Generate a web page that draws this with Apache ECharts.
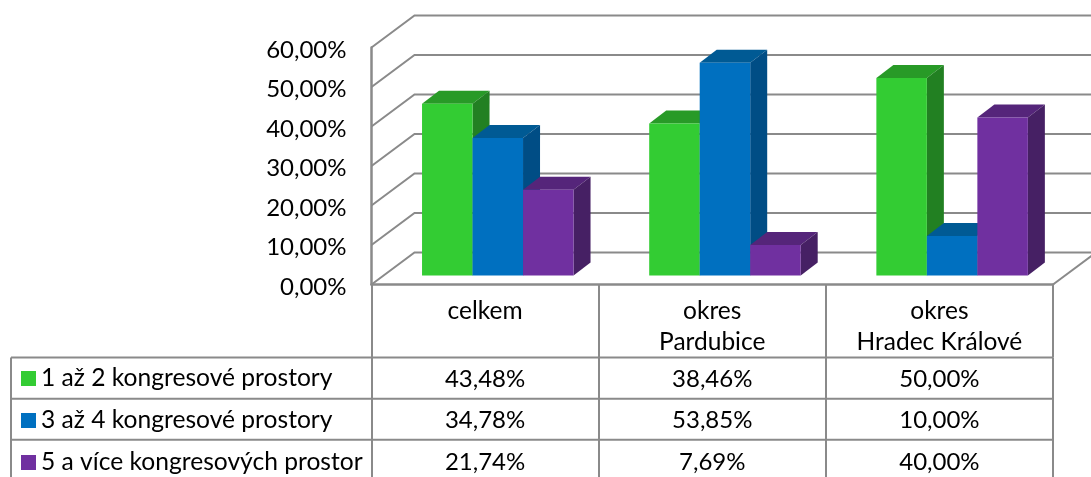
<!DOCTYPE html>
<html>
<head>
<meta charset="utf-8">
<style>html,body{margin:0;padding:0;background:#fff;overflow:hidden}#c{width:1091px;height:477px}</style>
<script src="https://cdn.jsdelivr.net/npm/echarts@6/dist/echarts.min.js"></script>
</head>
<body>
<div id="c"></div>
<script>
const categories = ['celkem', 'okres\nPardubice', 'okres\nHradec Králové'];
const seriesNames = ['1 až 2 kongresové prostory', '3 až 4 kongresové prostory', '5 a více kongresových prostor'];
const values1 = [43.48, 38.46, 50.00];
const values2 = [34.78, 53.85, 10.00];
const values3 = [21.74, 7.69, 40.00];
const yTicks = [0, 10, 20, 30, 40, 50, 60];
const allValues = [values1, values2, values3];
const palette = [
  {front: '#33CC33', top: '#289A27', side: '#228022'},
  {front: '#0070C0', top: '#005A94', side: '#004D85'},
  {front: '#7030A0', top: '#55257A', side: '#462064'}
];
const FONT = 'Lato';
const FS = 24;
const GREY = '#8a8a8a';
const pct = v => v.toFixed(2).replace('.', ',') + '%';
const wallDx = 43, wallDy = 32, barW = 50.5, barDx = 17, barDy = 13, barShiftX = 12.7, barShiftY = 9;

function wallSeries() {
  return {
    type: 'custom', silent: true, xAxisIndex: 0, yAxisIndex: 0, z: 1,
    data: yTicks.map(v => [0, v]),
    encode: {x: 0, y: 1},
    renderItem(params, api) {
      const cs = params.coordSys;
      const y = api.coord([0, api.value(1)])[1];
      const style = {stroke: GREY, lineWidth: 2, fill: null};
      const children = [{type: 'polyline', shape: {points: [[cs.x, y], [cs.x + wallDx, y - wallDy], [cs.x + cs.width + wallDx, y - wallDy]]}, style}];
      if (api.value(1) === 0) {
        children.push({type: 'line', shape: {x1: cs.x + cs.width, y1: y, x2: cs.x + cs.width + wallDx, y2: y - wallDy}, style});
      }
      return {type: 'group', children};
    }
  };
}

function barSeries(si) {
  const c = palette[si];
  return {
    name: seriesNames[si],
    type: 'custom', xAxisIndex: 0, yAxisIndex: 0, z: 3,
    itemStyle: {color: c.front},
    data: allValues[si].map((v, i) => [i, v]),
    encode: {x: 0, y: 1},
    renderItem(params, api) {
      const p = api.coord([api.value(0), api.value(1)]);
      const b = api.coord([api.value(0), 0]);
      const x = p[0] - 1.5 * barW + barShiftX + si * barW;
      const yt = p[1] - barShiftY, yb = b[1] - barShiftY;
      return {type: 'group', children: [
        {type: 'polygon', shape: {points: [[x, yt], [x + barW, yt], [x + barW + barDx, yt - barDy], [x + barDx, yt - barDy]]}, style: {fill: c.top}},
        {type: 'polygon', shape: {points: [[x + barW, yt], [x + barW + barDx, yt - barDy], [x + barW + barDx, yb - barDy], [x + barW, yb]]}, style: {fill: c.side}},
        {type: 'rect', shape: {x, y: yt, width: barW, height: yb - yt}, style: {fill: c.front}}
      ]};
    }
  };
}

function cellSeries(si) {
  return {
    type: 'custom', silent: true, xAxisIndex: 1, yAxisIndex: 1, z: 4,
    data: allValues[si].map((v, i) => [i, si, v]),
    encode: {x: 0, y: 1},
    renderItem(params, api) {
      const p = api.coord([api.value(0), api.value(1)]);
      return {type: 'text', x: p[0], y: p[1] + 1.5, style: {
        text: pct(api.value(2)), fill: '#000', font: FS + 'px ' + FONT, align: 'center', verticalAlign: 'middle'
      }};
    }
  };
}

const frameSeries = {
  type: 'custom', silent: true, xAxisIndex: 1, yAxisIndex: 1, z: 2,
  data: seriesNames.map((n, i) => [0, i]),
  encode: {x: 0, y: 1},
  renderItem(params, api) {
    const cs = params.coordSys;
    const y = api.coord([0, api.value(1)])[1] - api.size([0, 1])[1] / 2;
    const style = {stroke: GREY, lineWidth: 2, fill: null};
    const children = [{type: 'line', shape: {x1: 11, y1: y, x2: cs.x + cs.width, y2: y}, style}];
    if (api.value(1) === 0) {
      children.push({type: 'line', shape: {x1: 11, y1: y, x2: 11, y2: cs.y + cs.height}, style});
    }
    return {type: 'group', children};
  }
};

const axisLine = {lineStyle: {color: GREY, width: 2.5}};
const option = {
  animation: false,
  backgroundColor: '#fff',
  textStyle: {fontFamily: FONT},
  legend: {
    orient: 'vertical', left: 21, top: 366, padding: 0, itemGap: 17,
    itemWidth: 15, itemHeight: 15, selectedMode: false,
    icon: 'rect', data: seriesNames,
    textStyle: {fontFamily: FONT, fontSize: 24.6, color: '#000', lineHeight: 24.5}
  },
  grid: [
    {left: 371.5, top: 47.5, width: 681.5, height: 237, outerBoundsMode: 'none'},
    {left: 371.5, top: 357.5, width: 681.5, height: 123.5, outerBoundsMode: 'none'}
  ],
  xAxis: [
    {
      type: 'category', gridIndex: 0, data: categories,
      axisLine: {show: true, ...axisLine},
      axisTick: {show: true, interval: 0, length: 73, lineStyle: {color: GREY, width: 2}},
      axisLabel: {interval: 0, margin: 11, color: '#000', fontFamily: FONT, fontSize: 24.5, lineHeight: 31},
      splitLine: {show: false}
    },
    {
      type: 'category', gridIndex: 1, data: categories,
      axisLine: {show: false}, axisTick: {show: false}, axisLabel: {show: false},
      splitLine: {show: true, interval: 0, lineStyle: {color: GREY, width: 2}}
    }
  ],
  yAxis: [
    {
      type: 'value', gridIndex: 0, min: 0, max: 60, interval: 10,
      axisLine: {show: true, ...axisLine}, axisTick: {show: false},
      axisLabel: {margin: 25, color: '#000', fontFamily: FONT, fontSize: FS, verticalAlign: 'top', lineHeight: 5, formatter: v => pct(v)},
      splitLine: {show: false}
    },
    {
      type: 'category', gridIndex: 1, inverse: true, data: seriesNames,
      axisLine: {show: false}, axisTick: {show: false}, axisLabel: {show: false}, splitLine: {show: false}
    }
  ],
  series: [wallSeries(), barSeries(0), barSeries(1), barSeries(2), frameSeries, cellSeries(0), cellSeries(1), cellSeries(2)]
};
echarts.init(document.getElementById('c'), null, {renderer: 'canvas'}).setOption(option);
</script>
</body>
</html>
